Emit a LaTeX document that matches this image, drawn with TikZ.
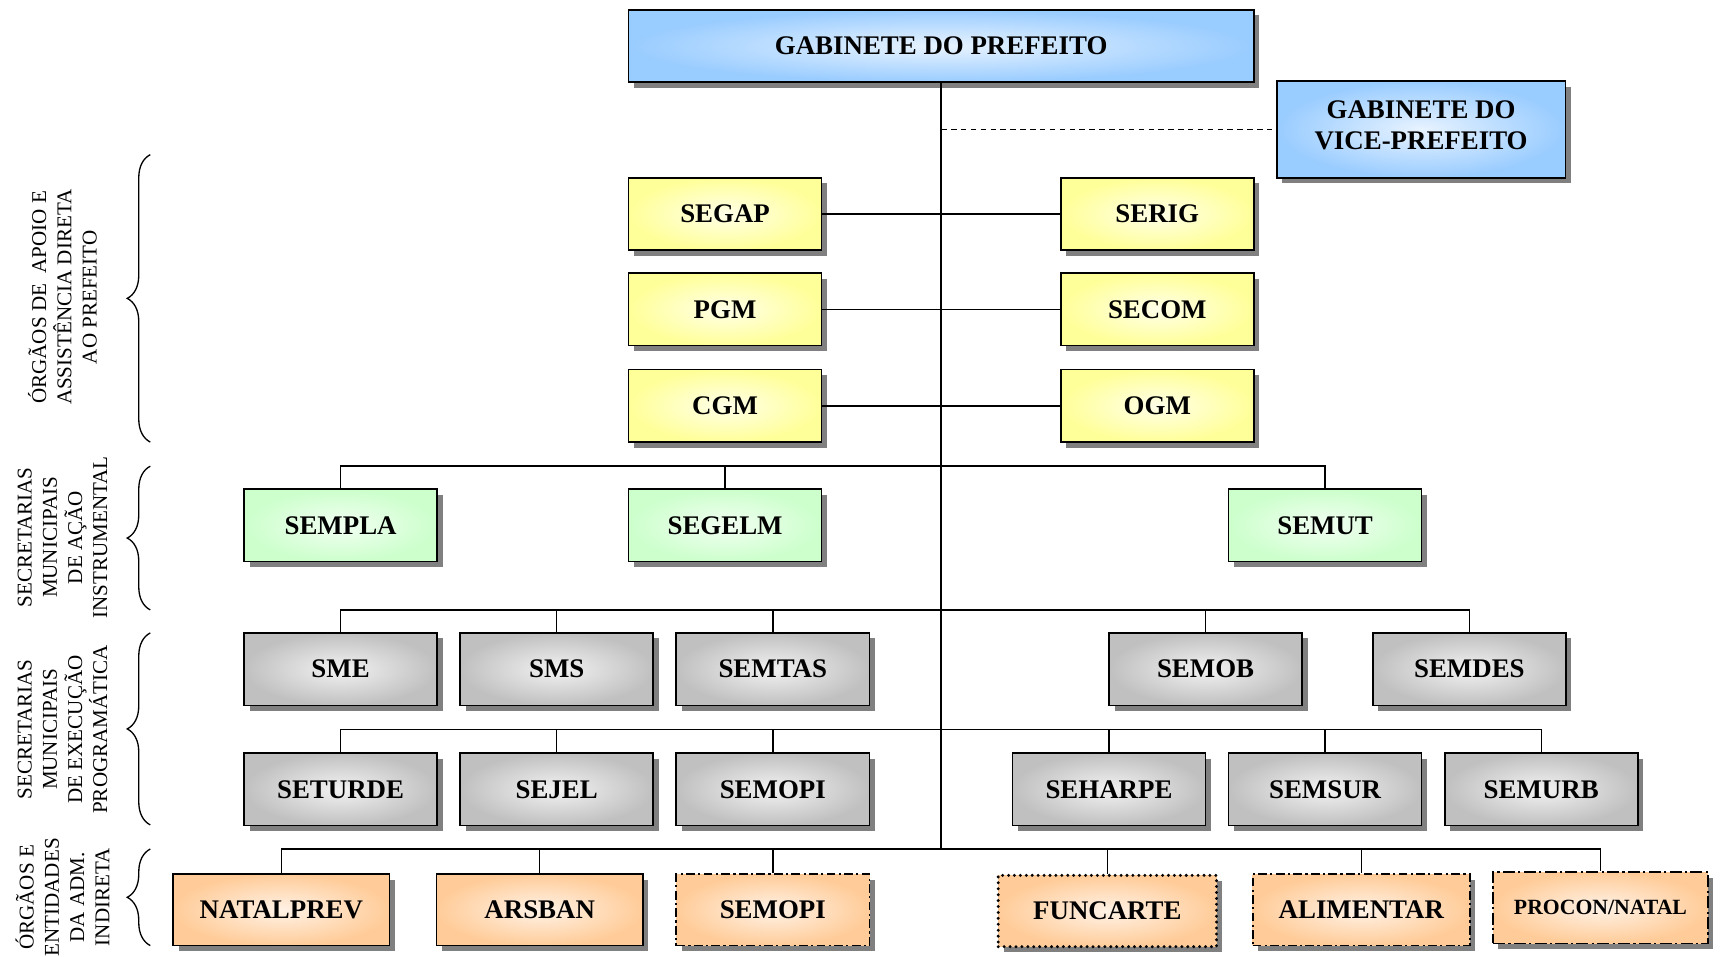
\documentclass[tikz,border=0pt]{standalone}
\usepackage{fontspec}
\setmainfont{Liberation Serif}
\usetikzlibrary{shadows,decorations.pathreplacing}
\definecolor{blueO}{RGB}{153,204,255}
\definecolor{blueI}{RGB}{232,243,255}
\definecolor{yelO}{RGB}{255,255,153}
\definecolor{yelI}{RGB}{255,255,232}
\definecolor{grnO}{RGB}{204,255,204}
\definecolor{grnI}{RGB}{242,255,242}
\definecolor{gryO}{RGB}{192,192,192}
\definecolor{gryI}{RGB}{242,242,242}
\definecolor{orgO}{RGB}{255,204,153}
\definecolor{orgI}{RGB}{255,242,230}
\begin{document}
\begin{tikzpicture}[x=1pt,y=-1pt,
  boxfont/.style={font=\fontsize{24.5}{28}\selectfont\bfseries},
  box/.style={rectangle, draw=black, line width=1.5pt, minimum width=176pt, minimum height=66pt, inner sep=0pt,
    boxfont, align=center,
    drop shadow={shadow xshift=5pt, shadow yshift=-5pt, opacity=1, fill=black!50}},
  bluebox/.style={box, inner color=blueI, outer color=blueO},
  yelbox/.style={box, inner color=yelI, outer color=yelO},
  grnbox/.style={box, inner color=grnI, outer color=grnO},
  grybox/.style={box, inner color=gryI, outer color=gryO},
  orgbox/.style={box, minimum height=65pt, inner color=orgI, outer color=orgO},
  dashdot/.style={dash pattern=on 8pt off 3pt on 2pt off 3pt},
  dashdotlong/.style={dash pattern=on 11pt off 3pt on 2pt off 3pt},
  dotline/.style={line width=3pt, dash pattern=on 0pt off 5.4pt, line cap=round},
  conn/.style={line width=1.3pt},
  lbl/.style={rotate=90, align=center, font=\fontsize{19.2}{23}\selectfont},
  brc/.style={decorate, decoration={brace, amplitude=21pt}, line width=1.2pt}
]
\useasboundingbox (0,0) rectangle (1568,872);

% coordinates for bars
\coordinate (b1) at (0,425);
\coordinate (b2) at (0,556);
\coordinate (b3) at (0,665);
\coordinate (b4) at (0,774);
\coordinate (tend) at (858,774);

% top
\node[bluebox, minimum width=570pt] (gab) at (858,42) {GABINETE DO PREFEITO};
\node[bluebox, minimum width=263pt, minimum height=88pt,
  label={[boxfont, align=center, yshift=4pt]center:{GABINETE DO\\VICE-PREFEITO}}] (vice) at (1295.5,118) {};

% yellow
\node[yelbox] (segap) at (661,195) {SEGAP};
\node[yelbox] (serig) at (1055,195) {SERIG};
\node[yelbox] (pgm) at (661,282) {PGM};
\node[yelbox] (secom) at (1055,282) {SECOM};
\node[yelbox] (cgm) at (661,370) {CGM};
\node[yelbox] (ogm) at (1055,370) {OGM};

% green
\node[grnbox] (sempla) at (310.5,479) {SEMPLA};
\node[grnbox] (segelm) at (661,479) {SEGELM};
\node[grnbox] (semut) at (1208,479) {SEMUT};

% gray row 1
\node[grybox] (sme) at (310.5,610) {SME};
\node[grybox] (sms) at (507.5,610) {SMS};
\node[grybox] (semtas) at (704.5,610) {SEMTAS};
\node[grybox] (semob) at (1099,610) {SEMOB};
\node[grybox] (semdes) at (1339.5,610) {SEMDES};

% gray row 2
\node[grybox] (seturde) at (310.5,719.5) {SETURDE};
\node[grybox] (sejel) at (507.5,719.5) {SEJEL};
\node[grybox] (semopi) at (704.5,719.5) {SEMOPI};
\node[grybox] (seharpe) at (1011,719.5) {SEHARPE};
\node[grybox] (semsur) at (1208,719.5) {SEMSUR};
\node[grybox] (semurb) at (1405,719.5) {SEMURB};

% orange row
\node[orgbox, minimum width=197pt] (natalprev) at (256.5,829.5) {NATALPREV};
\node[orgbox, minimum width=188pt] (arsban) at (492,829.5) {ARSBAN};
\node[orgbox, minimum width=176pt, dashdot] (semopib) at (704.5,829.5) {SEMOPI};
\node[orgbox, minimum width=199pt, dotline] (funcarte) at (1009.5,830.5) {FUNCARTE};
\node[orgbox, minimum width=198pt, dashdot] (alimentar) at (1241,829.5) {ALIMENTAR};
\node[orgbox, minimum width=196pt, dashdotlong, font=\fontsize{19.8}{24}\selectfont\bfseries] (procon) at (1459,827.5) {PROCON/NATAL};

% connectors
\draw[conn] (gab.south) -- (tend);
\draw[conn, line width=1.6pt, dash pattern=on 5pt off 4pt] (gab.south |- vice.west) -- (vice.west);
\draw[conn] (segap.east) -- (serig.west);
\draw[conn] (pgm.east) -- (secom.west);
\draw[conn] (cgm.east) -- (ogm.west);

\draw[conn] (sempla.north) -- (sempla.north |- b1) -- (semut.north |- b1) -- (semut.north);
\draw[conn] (segelm.north) -- (segelm.north |- b1);

\draw[conn] (sme.north) -- (sme.north |- b2) -- (semdes.north |- b2) -- (semdes.north);
\foreach \n in {sms,semtas,semob} \draw[conn] (\n.north) -- (\n.north |- b2);

\draw[conn] (seturde.north) -- (seturde.north |- b3) -- (semurb.north |- b3) -- (semurb.north);
\foreach \n in {sejel,semopi,seharpe,semsur} \draw[conn] (\n.north) -- (\n.north |- b3);

\draw[conn] (natalprev.north) -- (natalprev.north |- b4) -- (procon.north |- b4) -- (procon.north);
\foreach \n in {arsban,semopib,funcarte,alimentar} \draw[conn] (\n.north) -- (\n.north |- b4);

% braces
\draw[brc] (137,403) -- (137,141);
\draw[brc] (137,556) -- (137,425);
\draw[brc] (137,752) -- (137,577);
\draw[brc] (137,862) -- (137,774);

% labels
\node[lbl] (l1) at (57,271) {ÓRGÃOS DE~ APOIO E\\ASSISTÊNCIA DIRETA\\AO PREFEITO};
\node[lbl] (l2) at (57,490) {SECRETARIAS\\MUNICIPAIS\\DE AÇÃO\\INSTRUMENTAL};
\node[lbl] (l3) at (57,665) {SECRETARIAS\\MUNICIPAIS\\DE EXECUÇÃO\\PROGRAMÁTICA};
\node[lbl] (l4) at (57,818) {ÓRGÃOS E\\ENTIDADES\\DA ADM.\\INDIRETA};
\end{tikzpicture}
\end{document}
